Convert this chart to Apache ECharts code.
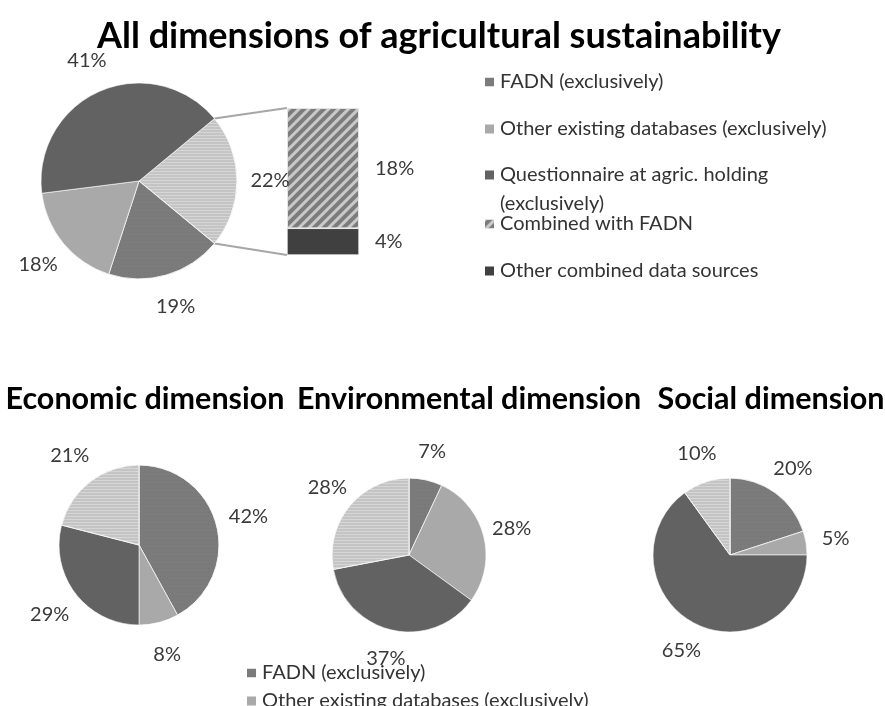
<!DOCTYPE html>
<html>
<head>
<meta charset="utf-8">
<script src="https://cdn.jsdelivr.net/npm/echarts@6/dist/echarts.min.js"></script>
<style>
  html, body { margin: 0; padding: 0; background: #ffffff; }
  #chart { width: 885px; height: 706px; }
</style>
</head>
<body>
<div id="chart"></div>
<script>
// Data sources, in the order used by the small pies (clockwise from 12 o'clock)
const sourceNames = [
  'FADN (exclusively)',
  'Other existing databases (exclusively)',
  'Questionnaire at agric. holding (exclusively)',
  'Combined data sources'
];
// Shares (%) for all dimensions together
const allDimensions = [19, 18, 41, 22];
// Breakdown of the combined share
const combinedNames = ['Combined with FADN', 'Other combined data sources'];
const combinedSplit = [18, 4];
// Shares (%) per dimension
const dimensionTitles = ['Economic dimension', 'Environmental dimension', 'Social dimension'];
const economicShares = [42, 8, 29, 21];
const environmentalShares = [7, 28, 37, 28];
const socialShares = [20, 5, 65, 10];

const FONT = 'Lato';
const LABEL_COLOR = '#3a3a3a';

const sliceStyles = {
  'FADN (exclusively)': {
    color: '#7b7b7b',
    decal: { symbol: 'circle', symbolSize: 0.6, dashArrayX: [1, 3], dashArrayY: [1, 3], color: 'rgba(70,70,70,0.45)' }
  },
  'Other existing databases (exclusively)': { color: '#a9a9a9' },
  'Questionnaire at agric. holding (exclusively)': { color: '#626262' },
  'Combined data sources': {
    color: '#c4c4c4',
    decal: { symbol: 'rect', symbolSize: 1, dashArrayX: [1, 0], dashArrayY: [1, 2], rotation: 0, color: '#d6d6d6' }
  },
  'Combined with FADN': {
    color: '#7c7c7c',
    decal: { symbol: 'rect', symbolSize: 1, dashArrayX: [1, 0], dashArrayY: [3, 4], rotation: -Math.PI / 4, color: '#c9c9c9' }
  },
  'Other combined data sources': { color: '#404040' }
};

function styleFor(name) {
  const s = sliceStyles[name];
  return Object.assign({ borderColor: '#ffffff', borderWidth: 0.6 }, s);
}

function pieData(values, order) {
  return order.map(i => ({ name: sourceNames[i], value: values[i], itemStyle: styleFor(sourceNames[i]) }));
}

// Pie geometry (px)
const mainPie = { center: [139, 181], r: 98, labelR: 128 };
const smallPies = [
  { center: [139, 545], r: 80, labelR: 110, values: economicShares },
  { center: [409, 555], r: 77, labelR: 103, values: environmentalShares },
  { center: [730, 555], r: 77, labelR: 104, values: socialShares }
];
const barGrid = { left: 287, top: 108, width: 72, height: 147 };

// The combined slice is centred on the 3 o'clock direction
const combinedIdx = 3;
const mainStart = allDimensions[combinedIdx] / 100 * 360 / 2;
const mainOrder = [3, 0, 1, 2];

const series = [];

// Main pie
series.push({
  type: 'pie',
  center: mainPie.center,
  radius: [0, mainPie.r],
  startAngle: mainStart,
  clockwise: true,
  label: { show: false },
  labelLine: { show: false },
  emphasis: { disabled: true },
  data: pieData(allDimensions, mainOrder)
});

// Small pies
smallPies.forEach(p => {
  series.push({
    type: 'pie',
    center: p.center,
    radius: [0, p.r],
    startAngle: 90,
    clockwise: true,
    label: { show: false },
    labelLine: { show: false },
    emphasis: { disabled: true },
    data: pieData(p.values, [0, 1, 2, 3])
  });
});

// Transparent rings carrying the percentage labels around each pie
function labelRing(center, r, labelR, values, order, startAngle) {
  return {
    type: 'pie',
    center: center,
    radius: [r, 2 * labelR - r],
    startAngle: startAngle,
    clockwise: true,
    silent: true,
    legendHoverLink: false,
    emphasis: { disabled: true },
    itemStyle: { color: 'rgba(0,0,0,0)', borderWidth: 0 },
    label: {
      show: true, position: 'inside', formatter: '{c}%',
      fontFamily: FONT, fontSize: 20, color: LABEL_COLOR
    },
    labelLine: { show: false },
    data: order.map(i => ({ name: sourceNames[i], value: values[i] }))
  };
}
series.push(labelRing(mainPie.center, mainPie.r, mainPie.labelR, allDimensions, mainOrder, mainStart));
smallPies.forEach(p => series.push(labelRing(p.center, p.r, p.labelR, p.values, [0, 1, 2, 3], 90)));

// Stacked bar breaking down the combined slice (bottom segment first)
[1, 0].forEach(i => {
  series.push({
    type: 'bar',
    name: combinedNames[i],
    stack: 'combined',
    barWidth: '100%',
    xAxisIndex: 0, yAxisIndex: 0,
    itemStyle: styleFor(combinedNames[i]),
    emphasis: { disabled: true },
    label: {
      show: true, position: 'right', distance: 16, formatter: '{c}%',
      fontFamily: FONT, fontSize: 20, color: LABEL_COLOR
    },
    data: [combinedSplit[i]]
  });
});

const legendText = { fontFamily: FONT, fontSize: 20, color: '#333333', lineHeight: 22 };
function singleLegend(name, left, centerY) {
  return {
    data: [name], left: left, top: centerY - 11, orient: 'vertical',
    itemWidth: 11, itemHeight: 11, itemGap: 0, selectedMode: false,
    icon: 'rect', textStyle: legendText
  };
}

const legends = [
  singleLegend(sourceNames[0], 478, 77),
  singleLegend(sourceNames[1], 478, 124),
  {
    data: [sourceNames[2]], left: 478, top: 170 - 43.5, orient: 'vertical',
    itemWidth: 11, itemHeight: 11, selectedMode: false, icon: 'rect',
    formatter: () => '\nQuestionnaire at agric. holding\n(exclusively)',
    textStyle: Object.assign({}, legendText, { lineHeight: 29 })
  },
  singleLegend(combinedNames[0], 478, 219),
  singleLegend(combinedNames[1], 478, 266),
  singleLegend(sourceNames[0], 240, 668),
  singleLegend(sourceNames[1], 240, 696)
];

const titleStyle = { fontFamily: FONT, fontSize: 36, fontWeight: 'bold', color: '#000000' };
const subTitleStyle = Object.assign({}, titleStyle, { fontSize: 30.5 });
const titles = [
  { text: 'All dimensions of agricultural sustainability', left: 434, top: 13, textAlign: 'center', textStyle: titleStyle },
  { text: dimensionTitles[0], left: 140, top: 379, textAlign: 'center', textStyle: subTitleStyle },
  { text: dimensionTitles[1], left: 464, top: 379, textAlign: 'center', textStyle: subTitleStyle },
  { text: dimensionTitles[2], left: 766, top: 379, textAlign: 'center', textStyle: subTitleStyle }
];

const chart = echarts.init(document.getElementById('chart'), null, { renderer: 'canvas' });
chart.setOption({
  backgroundColor: '#ffffff',
  animation: false,
  title: titles,
  legend: legends,
  grid: Object.assign({ containLabel: false }, barGrid),
  xAxis: { type: 'category', data: ['combined'], show: false },
  yAxis: { type: 'value', min: 0, max: combinedSplit[0] + combinedSplit[1], show: false },
  series: series
});

// Connector lines from the combined slice to the bar
const a = mainStart * Math.PI / 180;
const [cx, cy] = mainPie.center;
const pTop = [cx + mainPie.r * Math.cos(a), cy - mainPie.r * Math.sin(a)];
const pBot = [cx + mainPie.r * Math.cos(a), cy + mainPie.r * Math.sin(a)];
const yTop = chart.convertToPixel({ yAxisIndex: 0 }, combinedSplit[0] + combinedSplit[1]);
const yBot = chart.convertToPixel({ yAxisIndex: 0 }, 0);
const xLeft = barGrid.left;
chart.setOption({
  graphic: [
    { type: 'line', silent: true, shape: { x1: pTop[0], y1: pTop[1], x2: xLeft, y2: yTop }, style: { stroke: '#a6a6a6', lineWidth: 2 } },
    { type: 'line', silent: true, shape: { x1: pBot[0], y1: pBot[1], x2: xLeft, y2: yBot }, style: { stroke: '#a6a6a6', lineWidth: 2 } }
  ]
});
</script>
</body>
</html>
